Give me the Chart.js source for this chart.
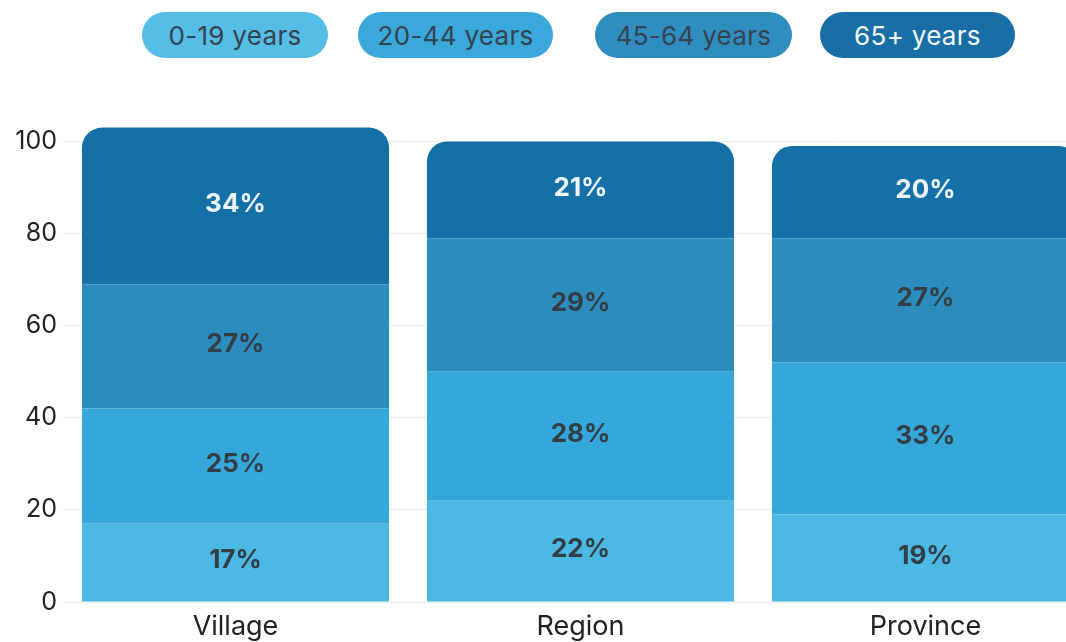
<!DOCTYPE html>
<html>
<head>
<meta charset="utf-8">
<script src="https://cdn.jsdelivr.net/npm/chart.js@4/dist/chart.umd.min.js"></script>
<style>
  html, body { margin: 0; padding: 0; background: #fff; overflow: hidden; }
  body { width: 1066px; height: 642px; position: relative; font-family: Inter, sans-serif; }
  #legend { position: absolute; top: 12px; left: 0; width: 1066px; height: 46px; }
  .pill {
    position: absolute; top: 0; height: 46px; border-radius: 23px;
    display: flex; align-items: center; justify-content: center;
    font-size: 26px; letter-spacing: 0.3px; color: #35434d;
  }
  .pill:nth-child(1) { left: 142px; width: 186px; }
  .pill:nth-child(2) { left: 358px; width: 195px; }
  .pill:nth-child(3) { left: 595px; width: 197px; }
  .pill:nth-child(4) { left: 820px; width: 195px; }
  #wrap { position: absolute; left: 0; top: 0; width: 1098px; height: 642px; }
</style>
</head>
<body>
<div id="legend"></div>
<div id="wrap"><canvas id="ageChart"></canvas></div>
<script>
// Age structure by area, share of population in %
const AREAS = ['Village', 'Region', 'Province'];
const AGE_GROUPS = ['0-19 years', '20-44 years', '45-64 years', '65+ years'];
const AGE_0_19 = [17, 22, 19];
const AGE_20_44 = [25, 28, 33];
const AGE_45_64 = [27, 29, 27];
const AGE_65_PLUS = [34, 21, 20];
const Y_TICKS = [0, 20, 40, 60, 80, 100];

const SERIES = [AGE_0_19, AGE_20_44, AGE_45_64, AGE_65_PLUS];
const FILLS = ['#4bb9e4', '#35a7db', '#2d8cbe', '#1670a8'];
const PILL_FILLS = ['#55bde6', '#3aa8da', '#2f8dc0', '#1a6ea6'];
const TEXT_COLORS = ['#333d44', '#333d44', '#333d44', '#eef5f9'];

// pill legend above the plot
const legend = document.getElementById('legend');
AGE_GROUPS.forEach((name, i) => {
    const pill = document.createElement('div');
    pill.className = 'pill';
    pill.textContent = name;
    pill.style.background = PILL_FILLS[i];
    if (i === 3) pill.style.color = '#f2f7fa';
    legend.appendChild(pill);
});

// percentage text in the middle of every segment
const segmentLabels = {
    id: 'segmentLabels',
    afterDatasetsDraw(chart) {
        const ctx = chart.ctx;
        ctx.save();
        ctx.font = 'bold 26px Inter, sans-serif';
        ctx.textAlign = 'center';
        ctx.textBaseline = 'middle';
        chart.data.datasets.forEach((ds, i) => {
            const meta = chart.getDatasetMeta(i);
            ctx.fillStyle = TEXT_COLORS[i];
            meta.data.forEach((bar, j) => {
                ctx.fillText(ds.data[j] + '%', bar.x, (bar.y + bar.base) / 2 - 2);
            });
        });
        ctx.restore();
    }
};

const ctx = document.getElementById('ageChart').getContext('2d');
new Chart(ctx, {
    type: 'bar',
    data: {
        labels: AREAS,
        datasets: AGE_GROUPS.map((name, i) => ({
            label: name,
            data: SERIES[i],
            backgroundColor: FILLS[i],
            borderWidth: 0,
            borderRadius: i === 3 ? { topLeft: 20, topRight: 20, bottomLeft: 0, bottomRight: 0 } : 0,
            borderSkipped: false,
            categoryPercentage: 1,
            barPercentage: 0.89
        }))
    },
    options: {
        responsive: true,
        maintainAspectRatio: false,
        animation: false,
        layout: { padding: { top: 123, left: 0, right: 0, bottom: 0 } },
        plugins: {
            legend: { display: false },
            tooltip: { enabled: false }
        },
        scales: {
            x: {
                stacked: true,
                grid: { display: false, drawTicks: false },
                border: { display: false },
                ticks: {
                    color: '#222',
                    padding: 9,
                    font: { family: 'Inter, sans-serif', size: 27 }
                },
                afterFit(scale) { scale.height = 40; }
            },
            y: {
                stacked: true,
                min: 0,
                max: 104,
                grid: { color: '#ececec', drawTicks: false },
                border: { display: false },
                afterBuildTicks(scale) {
                    scale.ticks = Y_TICKS.map(v => ({ value: v }));
                },
                ticks: {
                    color: '#222',
                    padding: 6,
                    font: { family: 'Inter, sans-serif', size: 25 }
                },
                afterFit(scale) { scale.width = 63; }
            }
        }
    },
    plugins: [segmentLabels]
});
</script>
</body>
</html>
